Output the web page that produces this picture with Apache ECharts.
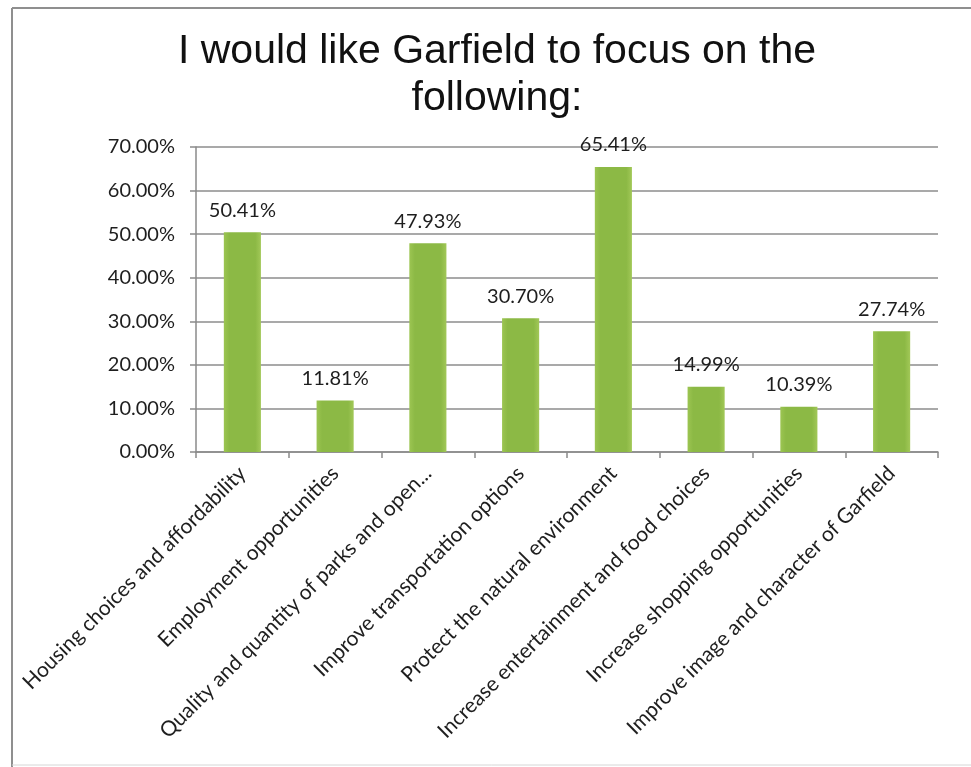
<!DOCTYPE html>
<html>
<head>
<meta charset="utf-8">
<script src="https://cdn.jsdelivr.net/npm/echarts@6/dist/echarts.min.js"></script>
<style>
  html, body { margin: 0; padding: 0; background: #fff; }
  #chart { width: 971px; height: 767px; }
</style>
</head>
<body>
<div id="chart"></div>
<script>
// Survey priorities: share of respondents choosing each focus area
const categories = [
  'Housing choices and affordability',
  'Employment opportunities',
  'Quality and quantity of parks and open...',
  'Improve transportation options',
  'Protect the natural environment',
  'Increase entertainment and food choices',
  'Increase shopping opportunities',
  'Improve image and character of Garfield'
];
const shares = [50.41, 11.81, 47.93, 30.70, 65.41, 14.99, 10.39, 27.74];
const yTicks = [0, 10, 20, 30, 40, 50, 60, 70];

const labelFont = 'Lato, "Open Sans", "Noto Sans", sans-serif';

const chart = echarts.init(document.getElementById('chart'), null, { renderer: 'canvas' });

chart.setOption({
  backgroundColor: '#ffffff',
  animation: false,
  title: {
    text: 'I would like Garfield to focus on the\nfollowing:',
    left: 492,
    textAlign: 'center',
    top: 23,
    textStyle: {
      fontFamily: '"Liberation Sans", Arial, sans-serif',
      fontSize: 41,
      fontWeight: 'normal',
      color: '#111',
      lineHeight: 47
    }
  },
  grid: { left: 196, right: 33, top: 147, bottom: 315 },
  xAxis: {
    type: 'category',
    data: categories,
    boundaryGap: true,
    axisLine: { show: true, lineStyle: { color: '#8a8a8a', width: 1.5 } },
    axisTick: { show: true, length: 6, alignWithLabel: false, lineStyle: { color: '#8a8a8a', width: 1.5 } },
    axisLabel: {
      interval: 0,
      rotate: 45,
      margin: 18,
      color: '#1e1e1e',
      fontFamily: labelFont,
      fontSize: 21
    }
  },
  yAxis: {
    type: 'value',
    min: yTicks[0],
    max: yTicks[yTicks.length - 1],
    interval: 10,
    axisLine: { show: true, lineStyle: { color: '#8a8a8a', width: 1.5 } },
    axisTick: { show: true, length: 6, inside: false, lineStyle: { color: '#8a8a8a', width: 1.5 } },
    splitLine: { show: true, lineStyle: { color: '#8c8c8c', width: 1.5 } },
    axisLabel: {
      margin: 21,
      color: '#1e1e1e',
      fontFamily: labelFont,
      fontSize: 20,
      formatter: v => v.toFixed(2) + '%'
    }
  },
  series: [{
    type: 'bar',
    data: shares,
    barWidth: '40%',
    itemStyle: {
      color: new echarts.graphic.LinearGradient(0, 0, 1, 0, [
        { offset: 0, color: '#9cc552' },
        { offset: 0.15, color: '#8cb945' },
        { offset: 0.85, color: '#8cb945' },
        { offset: 1, color: '#a2c858' }
      ])
    },
    label: {
      show: true,
      position: 'top',
      distance: 12,
      color: '#1e1e1e',
      fontFamily: labelFont,
      fontSize: 20,
      formatter: p => p.value.toFixed(2) + '%'
    }
  }],
  graphic: [
    // outer frame of the chart area
    { type: 'line', shape: { x1: 12, y1: 8, x2: 971, y2: 8 }, style: { stroke: '#8f8f8f', lineWidth: 2 } },
    { type: 'line', shape: { x1: 12, y1: 8, x2: 12, y2: 767 }, style: { stroke: '#8f8f8f', lineWidth: 2 } },
    { type: 'line', shape: { x1: 12, y1: 765, x2: 971, y2: 765 }, style: { stroke: '#d6d6d6', lineWidth: 1 } }
  ]
});
</script>
</body>
</html>
